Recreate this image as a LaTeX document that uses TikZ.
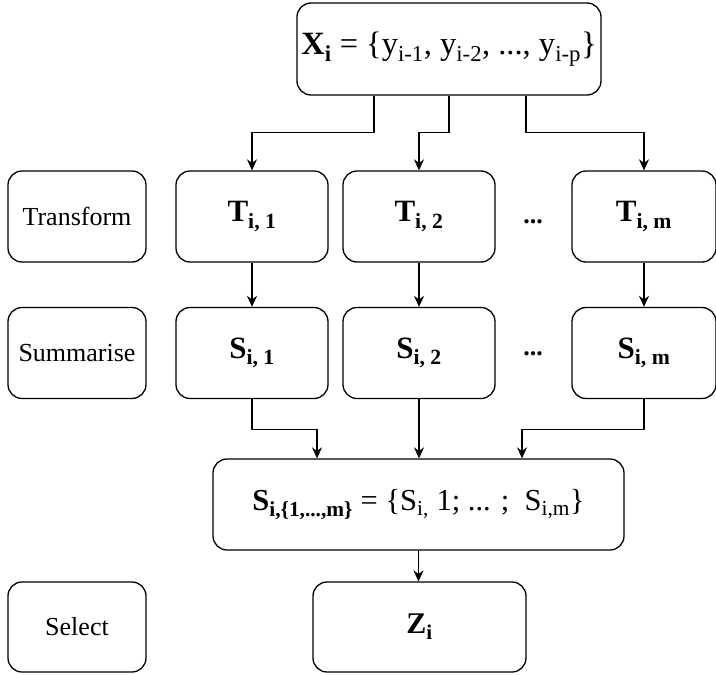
\documentclass[tikz,border=0pt]{standalone}
\usepackage{fontspec}
\setmainfont{Liberation Serif}
\usepackage{tikz}
\usetikzlibrary{arrows.meta}

\begin{document}
\begin{tikzpicture}[x=1pt,y=-1pt,
  box/.style={draw,line width=1.3pt,rounded corners=14pt,align=center,inner sep=0pt},
  arr/.style={line width=1.3pt,-{Stealth[length=11pt,width=10pt]}}]
  %frame
  \useasboundingbox (0,0) rectangle (716,675);

  %top box
  \node[box,minimum width=304pt,minimum height=92pt,font=\fontsize{32.5}{36}\selectfont] (X) at (449,49)
    {\textbf{X\textsubscript{i}} = \{y\textsubscript{i-1}, y\textsubscript{i-2}, ..., y\textsubscript{i-p}\}};

  %row labels
  \node[box,minimum width=138pt,minimum height=91pt,font=\fontsize{26}{30}\selectfont] (labT) at (77,216.5) {Transform};
  \node[box,minimum width=138pt,minimum height=91pt,font=\fontsize{26}{30}\selectfont] (labS) at (77,353) {Summarise};
  \node[box,minimum width=138pt,minimum height=90pt,font=\fontsize{26}{30}\selectfont] (labZ) at (77,627) {Select};

  %transform boxes
  \node[box,minimum width=152pt,minimum height=91pt,font=\fontsize{31}{35}\selectfont] (t1) at (252,216.5) {\textbf{T\textsubscript{i, 1}}};
  \node[box,minimum width=152pt,minimum height=91pt,font=\fontsize{31}{35}\selectfont] (t2) at (419,216.5) {\textbf{T\textsubscript{i, 2}}};
  \node[box,minimum width=144pt,minimum height=91pt,font=\fontsize{31}{35}\selectfont] (tm) at (644,216.5) {\textbf{T\textsubscript{i, m}}};
  \node[font=\fontsize{26}{30}\selectfont] (dotsT) at (533,222) {\textbf{...}};

  %summary boxes
  \node[box,minimum width=152pt,minimum height=91pt,font=\fontsize{31}{35}\selectfont] (s1) at (252,353) {\textbf{S\textsubscript{i, 1}}};
  \node[box,minimum width=152pt,minimum height=91pt,font=\fontsize{31}{35}\selectfont] (s2) at (419,353) {\textbf{S\textsubscript{i, 2}}};
  \node[box,minimum width=144pt,minimum height=91pt,font=\fontsize{31}{35}\selectfont] (sm) at (644,353) {\textbf{S\textsubscript{i, m}}};
  \node[font=\fontsize{26}{30}\selectfont] (dotsS) at (533,354) {\textbf{...}};

  %combined and selected
  \node[box,minimum width=411pt,minimum height=91pt,font=\fontsize{30.5}{34}\selectfont] (all) at (418.5,504.5)
    {\textbf{S\textsubscript{i,\{1,...,m\}}} = \{S\textsubscript{i,} 1; ... ;~ S\textsubscript{i,m}\}};
  \node[box,minimum width=213pt,minimum height=90pt,font=\fontsize{30}{34}\selectfont] (z) at (419.5,627) {\textbf{Z\textsubscript{i}}};

  %arrows from X
  \draw[arr] ([xshift=-75pt]X.south) -- ++(0,37) -| (t1.north);
  \draw[arr] (X.south) -- ++(0,37) -| (t2.north);
  \draw[arr] ([xshift=77pt]X.south) -- ++(0,37) -| (tm.north);

  %transform to summary
  \draw[arr] (t1) -- (s1);
  \draw[arr] (t2) -- (s2);
  \draw[arr] (tm) -- (sm);

  %summary to combined
  \draw[arr] (s1.south) -- ++(0,30) -| ([xshift=-101.5pt]all.north);
  \draw[arr] (s2.south) -- (s2.south |- all.north);
  \draw[arr] (sm.south) -- ++(0,30) -| ([xshift=103.5pt]all.north);

  %combined to selected
  \draw[arr] (all.south) -- (all.south |- z.north);
\end{tikzpicture}
\end{document}
